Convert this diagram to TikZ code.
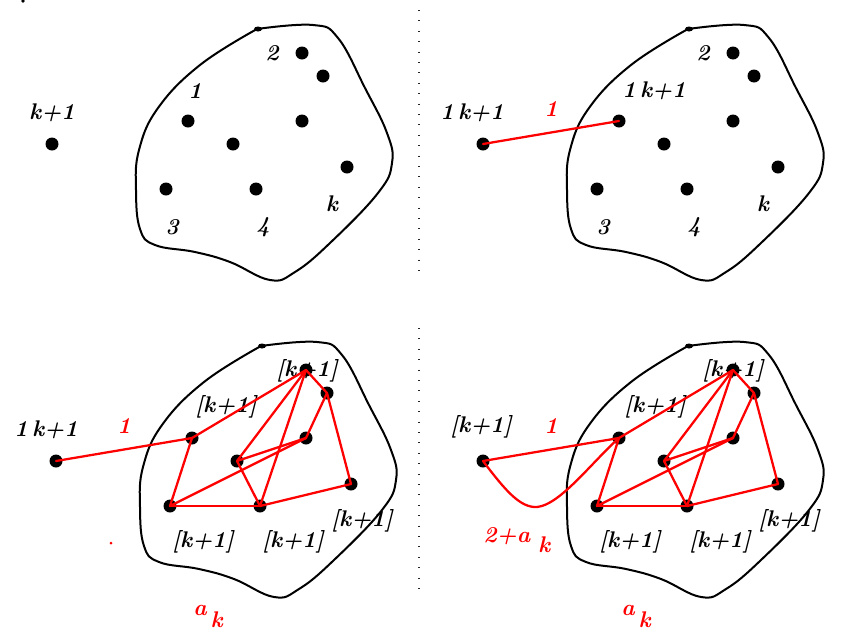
\documentclass[tikz,border=0pt]{standalone}
\usepackage{tikz}
\usetikzlibrary{positioning}

\tikzset{
  dot/.style={circle,fill=black,inner sep=0pt,minimum size=9.75pt},
  blob/.style={line width=1.5pt,black},
  redge/.style={red,line width=1.7pt,line join=round,line cap=round},
  lbl/.style={font=\fontsize{17}{17}\selectfont\bfseries\itshape,inner sep=0pt},
  rlbl/.style={lbl,text=red},
  divider/.style={line width=1.2pt,black!85,dash pattern=on 0.8pt off 7pt}
}
\newcommand\okk{1\hspace{0.2em}k+1}

\begin{document}
\begin{tikzpicture}[x=0.75pt,y=-0.75pt]
\useasboundingbox (0,0) rectangle (842,636);
% stray mark in the corner
\fill (23,1) circle (1.8);
% separators
\draw[divider] (419,10) -- (419,275);
\draw[divider] (419,328) -- (419,593);
% four panels: a top left, b top right, c bottom left, d bottom right
\foreach \p/\dx/\dy in {a/0/0,b/431/0,c/4/317,d/431/317}{
  \begin{scope}[shift={(\dx,\dy)}]
    \draw[blob] plot[smooth,tension=0.7] coordinates {(257,29) (313,25) (338,38)
      (365,88) (387,133) (392,163) (378,193) (330,243) (295,272) (270,280)
      (230,262) (195,252) (155,245) (140,229) (136,190) (139,150) (158,108)
      (200,65) (257,29)};
    \fill (258,29) ellipse (4 and 2.5);
    \foreach \n/\x/\y in {o/52/144,1/188/121,2/302/53,2b/323/76,5/302/121,
                          6/233/144,k/347/167,3/166/189,4/256/189}
      \node[dot] (\p\n) at (\x,\y) {};
  \end{scope}
}
% labels of the upper panels
\foreach \p/\dx in {a/0,b/431}{
  \begin{scope}[xshift=\dx*0.75pt]
    \node[lbl] (\p l2) at (272,53) {2};
    \node[lbl] (\p l3) at (172,227) {3};
    \node[lbl] (\p l4) at (263,227) {4};
    \node[lbl] (\p lk) at (332,204) {k};
  \end{scope}
}
\node[lbl] (alo) at (52,113) {k+1};
\node[lbl] (al1) at (195,91) {1};
\node[lbl] (blo) at (472,113) {\okk};
\node[lbl] (bl1) at (654,91) {\okk};
% labels of the lower panels
\node[lbl] (clo) at (46,430) {\okk};
\node[lbl] (cl1) at (226,407) {[k+1]};
\node[lbl] (cl2) at (307,371) {[k+1]};
\node[lbl] (cl3) at (203,542) {[k+1]};
\node[lbl] (cl4) at (293,542) {[k+1]};
\node[lbl] (clk) at (362,521) {[k+1]};
\node[lbl] (dlo) at (481,427) {[k+1]};
\node[lbl] (dl1) at (655,407) {[k+1]};
\node[lbl] (dl2) at (733,371) {[k+1]};
\node[lbl] (dl3) at (630,542) {[k+1]};
\node[lbl] (dl4) at (720,542) {[k+1]};
\node[lbl] (dlk) at (789,521) {[k+1]};
% edges
\foreach \p in {b,c,d}
  \draw[redge] (\p o.center) -- node[rlbl,above=11pt] {1} (\p1.center);
\foreach \p in {c,d}
  \foreach \u/\v in {1/2,1/3,3/4,3/5,5/2b,2b/2,2b/k,k/4,4/2,6/2,6/5,6/4}
    \draw[redge] (\p\u.center) -- (\p\v.center);
\draw[redge] (do.center) .. controls (505,490) and (520,508) .. (537,507)
  .. controls (560,505) and (592,462) .. (d1.center);
% red marks below
\fill[red] (111,543) circle (1.5);
\node[rlbl,anchor=base west] (cak) at (193,615) {a\hspace{3pt}\raisebox{-9pt}{k}};
\node[rlbl,anchor=base west] (dak) at (621,615) {a\hspace{3pt}\raisebox{-9pt}{k}};
\node[rlbl,anchor=base west] (d2ak) at (483,542) {2+a\hspace{6pt}\raisebox{-7.5pt}{k}};
\end{tikzpicture}
\end{document}
